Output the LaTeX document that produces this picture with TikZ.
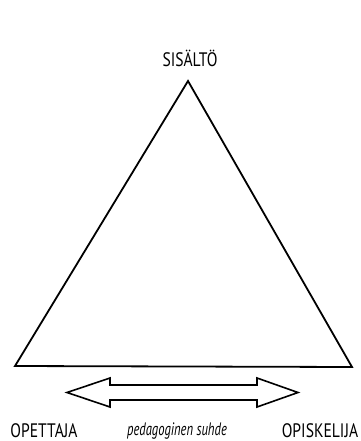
\documentclass[tikz,border=0pt]{standalone}
\usepackage{fontspec}
\setmainfont{PT Sans}[FakeStretch=0.8,ItalicFeatures={FakeStretch=0.7}]
\usetikzlibrary{positioning}
\tikzset{
  corner/.style={font=\fontsize{19.5}{19.5}\selectfont,inner sep=0pt,anchor=base},
  relation/.style={font=\fontsize{18}{18}\selectfont\itshape,inner sep=0pt,anchor=base},
  side/.style={line width=1.8pt,draw=black,line join=miter}
}

\begin{document}
\begin{tikzpicture}[x=1pt,y=-1pt,
  twoway/.style={draw=black,line width=1.6pt,line join=miter}
]
\useasboundingbox (0,0) rectangle (360,441);

\coordinate (top) at (188,81);
\coordinate (left) at (15,366);
\coordinate (right) at (352,367);

\draw[side] (top) -- (left) -- (right) -- cycle;

\node[corner] (sisalto) at (190,67) {SISÄLTÖ};
\node[corner] (opettaja) at (44,437) {OPETTAJA};
\node[corner] (opiskelija) at (320,437) {OPISKELIJA};
\node[relation] (suhde) at (177,435) {pedagoginen suhde};

% double arrow between the two corners
\draw[twoway] (67,392.5) -- (110,378) -- (110,385) -- (257,385) -- (257,378)
  -- (298,392.5) -- (257,407) -- (257,400) -- (110,400) -- (110,407) -- cycle;
\end{tikzpicture}
\end{document}
